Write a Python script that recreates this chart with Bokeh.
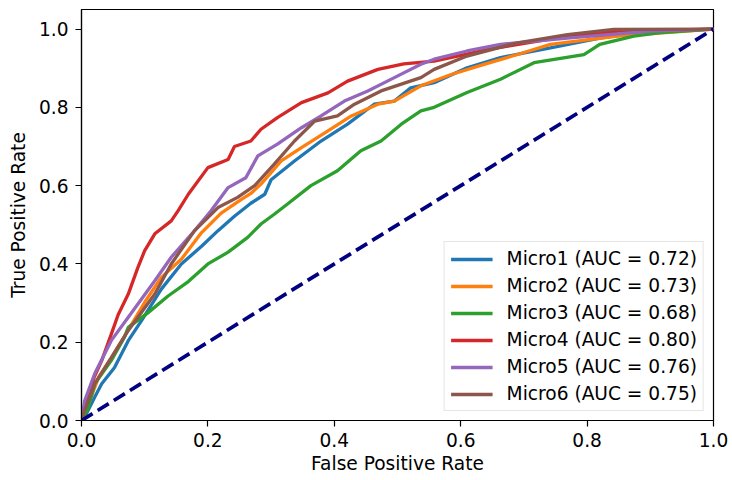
from bokeh.plotting import figure
from bokeh.models import Range1d, Legend, LegendItem, FixedTicker, PrintfTickFormatter
from bokeh.embed import file_html
from bokeh.resources import INLINE

names = ["Micro1", "Micro2", "Micro3", "Micro4", "Micro5", "Micro6"]
aucs = [0.72, 0.73, 0.68, 0.80, 0.76, 0.75]
colors = ["#1f77b4", "#ff7f0e", "#2ca02c", "#d62728", "#9467bd", "#8c564b"]

micro1_fpr = [0, 0.005, 0.021, 0.032, 0.052, 0.074, 0.095, 0.126, 0.158, 0.19, 0.216, 0.242, 0.268, 0.29, 0.3,
              0.337, 0.379, 0.421, 0.463, 0.495, 0.521, 0.558, 0.61, 0.663, 0.742, 0.82, 0.9, 1.0]
micro1_tpr = [0, 0.008, 0.06, 0.094, 0.135, 0.204, 0.255, 0.335, 0.4, 0.445, 0.485, 0.522, 0.555, 0.578, 0.615,
              0.663, 0.714, 0.757, 0.808, 0.816, 0.85, 0.863, 0.901, 0.927, 0.952, 0.977, 0.995, 1.0]

micro2_fpr = [0, 0.005, 0.027, 0.047, 0.068, 0.1, 0.126, 0.158, 0.19, 0.221, 0.253, 0.268, 0.284, 0.316, 0.348,
              0.39, 0.427, 0.469, 0.495, 0.537, 0.585, 0.637, 0.69, 0.742, 0.848, 1.0]
micro2_tpr = [0, 0.017, 0.11, 0.16, 0.215, 0.302, 0.365, 0.412, 0.48, 0.53, 0.565, 0.58, 0.604, 0.663, 0.697,
              0.74, 0.778, 0.808, 0.816, 0.855, 0.884, 0.91, 0.935, 0.961, 0.982, 1.0]

micro3_fpr = [0, 0.01, 0.021, 0.047, 0.068, 0.074, 0.105, 0.137, 0.169, 0.2, 0.232, 0.263, 0.284, 0.305, 0.326,
              0.363, 0.405, 0.442, 0.474, 0.506, 0.537, 0.558, 0.61, 0.663, 0.716, 0.795, 0.82, 0.874, 0.916, 1.0]
micro3_tpr = [0, 0.03, 0.094, 0.153, 0.213, 0.238, 0.275, 0.318, 0.355, 0.4, 0.43, 0.468, 0.502, 0.527, 0.553,
              0.6, 0.638, 0.689, 0.714, 0.757, 0.791, 0.80, 0.838, 0.872, 0.914, 0.935, 0.961, 0.982, 0.991, 1.0]

micro4_fpr = [0, 0.005, 0.02, 0.032, 0.047, 0.058, 0.074, 0.089, 0.1, 0.116, 0.142, 0.153, 0.169, 0.2, 0.232,
              0.242, 0.268, 0.284, 0.31, 0.348, 0.39, 0.421, 0.469, 0.51, 0.558, 0.65, 0.77, 0.85, 1.0]
micro4_tpr = [0, 0.04, 0.11, 0.153, 0.22, 0.27, 0.323, 0.39, 0.434, 0.477, 0.51, 0.536, 0.578, 0.646, 0.667,
              0.70, 0.714, 0.744, 0.774, 0.812, 0.837, 0.867, 0.897, 0.911, 0.918, 0.95, 0.982, 0.995, 1.0]

micro5_fpr = [0, 0.005, 0.021, 0.047, 0.074, 0.116, 0.142, 0.179, 0.205, 0.232, 0.26, 0.279, 0.31, 0.348, 0.379,
              0.416, 0.453, 0.495, 0.537, 0.558, 0.61, 0.663, 0.769, 0.9, 1.0]
micro5_tpr = [0, 0.05, 0.12, 0.204, 0.264, 0.357, 0.417, 0.485, 0.536, 0.595, 0.62, 0.676, 0.706, 0.748, 0.778,
              0.816, 0.842, 0.876, 0.91, 0.923, 0.944, 0.961, 0.977, 0.995, 1.0]

micro6_fpr = [0, 0.005, 0.021, 0.047, 0.074, 0.116, 0.142, 0.179, 0.216, 0.247, 0.274, 0.305, 0.337, 0.369,
              0.405, 0.432, 0.474, 0.537, 0.558, 0.61, 0.69, 0.769, 0.842, 1.0]
micro6_tpr = [0, 0.026, 0.094, 0.16, 0.23, 0.323, 0.40, 0.485, 0.544, 0.57, 0.6, 0.655, 0.714, 0.765,
              0.778, 0.808, 0.842, 0.876, 0.897, 0.931, 0.965, 0.986, 0.999, 1.0]

chance_fpr = [0, 1]
chance_tpr = [0, 1]

x_ticks = [0.0, 0.2, 0.4, 0.6, 0.8, 1.0]
y_ticks = [0.0, 0.2, 0.4, 0.6, 0.8, 1.0]

fprs = [micro1_fpr, micro2_fpr, micro3_fpr, micro4_fpr, micro5_fpr, micro6_fpr]
tprs = [micro1_tpr, micro2_tpr, micro3_tpr, micro4_tpr, micro5_tpr, micro6_tpr]

FONT = "DejaVu Sans"
FS = "18.6px"

p = figure(width=732, height=480, output_backend="svg", toolbar_location=None,
           x_range=Range1d(0, 1.0), y_range=Range1d(0, 1.05),
           min_border_left=81, min_border_right=19, min_border_top=9, min_border_bottom=60)

p.xgrid.visible = False
p.ygrid.visible = False
p.outline_line_color = "black"
p.outline_line_width = 1.2
p.outline_line_alpha = 1.0

items = []
for name, auc, col, fx, ty in zip(names, aucs, colors, fprs, tprs):
    r = p.line(fx, ty, line_color=col, line_width=3.3)
    items.append(LegendItem(label=f"{name} (AUC = {auc:.2f})", renderers=[r]))

p.line(chance_fpr, chance_tpr, line_color="navy", line_width=3.7, line_dash="13 6")

for ax, ticks, lab in ((p.xaxis[0], x_ticks, "False Positive Rate"), (p.yaxis[0], y_ticks, "True Positive Rate")):
    ax.ticker = FixedTicker(ticks=ticks)
    ax.formatter = PrintfTickFormatter(format="%.1f")
    ax.axis_label = lab
    ax.axis_label_text_font = FONT
    ax.axis_label_text_font_size = FS
    ax.axis_label_text_font_style = "normal"
    ax.axis_label_text_color = "black"
    ax.major_label_text_font = FONT
    ax.major_label_text_font_size = FS
    ax.major_label_text_color = "black"
    ax.axis_line_color = "black"
    ax.axis_line_width = 1.2
    ax.major_tick_line_color = "black"
    ax.major_tick_line_width = 1.2
    ax.major_tick_out = 6
    ax.major_tick_in = 0
    ax.minor_tick_line_color = None

p.yaxis[0].major_label_standoff = 7
p.yaxis[0].axis_label_standoff = 7
p.xaxis[0].major_label_standoff = 6
p.xaxis[0].axis_label_standoff = 3

legend = Legend(items=items, location="bottom_right")
legend.margin = 9
legend.padding = 6
legend.spacing = 6
legend.label_height = 20
legend.glyph_height = 20
legend.glyph_width = 42
legend.label_standoff = 14
legend.label_text_font = FONT
legend.label_text_font_size = FS
legend.label_text_color = "black"
legend.border_line_color = "#cccccc"
legend.border_line_width = 1
legend.background_fill_alpha = 0.8
p.add_layout(legend)

open("out.html", "w").write(file_html(p, INLINE))
